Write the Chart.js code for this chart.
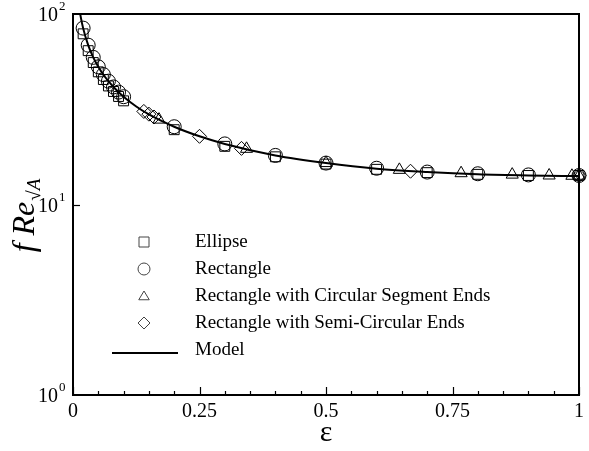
<!DOCTYPE html>
<html>
<head>
<meta charset="utf-8">
<script src="https://cdn.jsdelivr.net/npm/chart.js@4.4.1/dist/chart.umd.min.js"></script>
<style>
  body { margin: 0; background: #fff; }
  #wrap { width: 589px; height: 451px; }
</style>
</head>
<body>
<div id="wrap"><canvas id="plot"></canvas></div>
<script>
// aspect ratio values
const epsEllipse = [0.02, 0.03, 0.04, 0.05, 0.06, 0.07, 0.08, 0.09, 0.1, 0.2, 0.3, 0.4, 0.5, 0.6, 0.7, 0.8, 0.9, 1.0];
const freEllipse = [78.7, 64.2, 55.6, 49.7, 45.3, 41.9, 39.2, 36.9, 35.0, 24.7, 20.2, 17.8, 16.3, 15.3, 14.7, 14.4, 14.2, 14.2];

const epsRect = [0.02, 0.03, 0.04, 0.05, 0.06, 0.07, 0.08, 0.09, 0.1, 0.2, 0.3, 0.4, 0.5, 0.6, 0.7, 0.8, 0.9, 1.0];
const freRect = [84.3, 68.6, 59.2, 52.8, 48.1, 44.4, 41.4, 38.9, 36.8, 25.6, 20.8, 18.1, 16.5, 15.5, 14.8, 14.5, 14.3, 14.2];

const epsCircSeg = [0.17, 0.343, 0.5, 0.645, 0.767, 0.868, 0.941, 0.986, 1.0];
const freCircSeg = [27.9, 19.6, 16.5, 15.2, 14.6, 14.35, 14.2, 14.15, 14.15];

const epsSemiCirc = [0.14, 0.15, 0.16, 0.25, 0.333, 0.667, 1.0];
const freSemiCirc = [30.8, 29.8, 28.8, 22.8, 19.7, 14.95, 14.2];

const epsModel = [0.01, 0.015, 0.02, 0.03, 0.04, 0.05, 0.06, 0.08, 0.1, 0.125, 0.15, 0.2, 0.25, 0.3, 0.4, 0.5, 0.6, 0.7, 0.8, 0.9, 1.0];
const freModel = [119.6, 97.5, 84.3, 68.6, 59.2, 52.8, 48.0, 41.4, 36.8, 32.7, 29.7, 25.6, 22.8, 20.8, 18.1, 16.5, 15.4, 14.8, 14.4, 14.2, 14.1];

const xTickLabels = ['0', '0.25', '0.5', '0.75', '1'];
const yTickExp = ['0', '1', '2'];

const legendNames = ['Ellipse', 'Rectangle', 'Rectangle with Circular Segment Ends', 'Rectangle with Semi-Circular Ends', 'Model'];

const serif = '"Liberation Serif", "Times New Roman", serif';

function pts(xs, ys) {
    return xs.map((x, i) => ({ x: x, y: ys[i] }));
}

function markerSet(label, xs, ys, style, r) {
    return {
        label: label,
        data: pts(xs, ys),
        showLine: false,
        pointStyle: style,
        pointRadius: r,
        pointBorderWidth: 1,
        pointBorderColor: '#000',
        pointBackgroundColor: 'rgba(0,0,0,0)',
        clip: false
    };
}

// draws one hollow marker for the legend
function drawMarker(ctx, style, x, y, r) {
    ctx.beginPath();
    if (style === 'rect') {
        ctx.rect(x - r, y - r, 2 * r, 2 * r);
    } else if (style === 'circle') {
        ctx.arc(x, y, r, 0, Math.PI * 2);
    } else if (style === 'triangle') {
        ctx.moveTo(x, y - r);
        ctx.lineTo(x + r * 1.05, y + r * 0.75);
        ctx.lineTo(x - r * 1.05, y + r * 0.75);
        ctx.closePath();
    } else if (style === 'rectRot') {
        ctx.moveTo(x, y - r * 1.2);
        ctx.lineTo(x + r * 1.2, y);
        ctx.lineTo(x, y + r * 1.2);
        ctx.lineTo(x - r * 1.2, y);
        ctx.closePath();
    }
    ctx.stroke();
}

const framePlugin = {
    id: 'frame',
    afterDraw(chart) {
        const ctx = chart.ctx;
        const a = chart.chartArea;
        const xs = chart.scales.x;
        const ys = chart.scales.y;
        ctx.save();
        ctx.strokeStyle = '#000';

        // x ticks, major every 0.25 and minor every 0.05
        ctx.lineWidth = 1.2;
        for (let i = 0; i <= 20; i++) {
            const px = Math.round(xs.getPixelForValue(i * 0.05)) + 0.5;
            const len = (i % 5 === 0) ? 8 : 4;
            ctx.beginPath();
            ctx.moveTo(px, a.bottom);
            ctx.lineTo(px, a.bottom - len);
            ctx.stroke();
        }
        // y tick at 10
        const py10 = Math.round(ys.getPixelForValue(10)) + 0.5;
        ctx.beginPath();
        ctx.moveTo(a.left, py10);
        ctx.lineTo(a.left + 7, py10);
        ctx.stroke();

        // frame
        ctx.lineWidth = 2;
        ctx.strokeRect(a.left, a.top, a.right - a.left, a.bottom - a.top);

        // y tick labels with exponent
        ctx.fillStyle = '#000';
        ctx.textBaseline = 'middle';
        [1, 10, 100].forEach((v, i) => {
            const py = ys.getPixelForValue(v) + 2;
            ctx.font = '20px ' + serif;
            ctx.textAlign = 'right';
            ctx.fillText('10', a.left - 15, py);
            ctx.font = '13px ' + serif;
            ctx.textAlign = 'left';
            ctx.fillText(yTickExp[i], a.left - 14, py - 9);
        });

        // y axis title
        ctx.save();
        ctx.translate(24, 216);
        ctx.rotate(-Math.PI / 2);
        ctx.textAlign = 'left';
        ctx.textBaseline = 'alphabetic';
        ctx.font = 'italic 32px ' + serif;
        const main = 'f Re';
        const w = ctx.measureText(main).width;
        ctx.font = 'italic 19px ' + serif;
        const sub = '\u221AA';
        const ws = ctx.measureText(sub).width;
        const x0 = -(w + ws) / 2;
        ctx.font = 'italic 32px ' + serif;
        ctx.fillText(main, x0, 10);
        ctx.font = 'italic 19px ' + serif;
        ctx.fillText(sub, x0 + w + 1, 16);
        ctx.restore();

        // legend
        const styles = ['rect', 'circle', 'triangle', 'rectRot'];
        const sizes = [5, 6, 5, 5];
        const rowY = [242, 269, 296, 323, 350];
        ctx.lineWidth = 1;
        ctx.strokeStyle = '#444';
        styles.forEach((s, i) => drawMarker(ctx, s, 144, rowY[i], sizes[i]));
        ctx.strokeStyle = '#000';
        ctx.lineWidth = 2;
        ctx.beginPath();
        ctx.moveTo(112, rowY[4] + 3);
        ctx.lineTo(178, rowY[4] + 3);
        ctx.stroke();
        ctx.font = '19px ' + serif;
        ctx.textAlign = 'left';
        ctx.textBaseline = 'middle';
        legendNames.forEach((n, i) => ctx.fillText(n, 195, rowY[i]));

        ctx.restore();
    }
};

new Chart(document.getElementById('plot'), {
    type: 'scatter',
    data: {
        datasets: [
            {
                label: 'Model',
                data: pts(epsModel, freModel),
                showLine: true,
                borderColor: '#000',
                borderWidth: 2,
                pointRadius: 0,
                cubicInterpolationMode: 'monotone'
            },
            markerSet('Ellipse', epsEllipse, freEllipse, 'rect', 7),
            markerSet('Rectangle', epsRect, freRect, 'circle', 7),
            markerSet('Rectangle with Circular Segment Ends', epsCircSeg, freCircSeg, 'triangle', 7),
            markerSet('Rectangle with Semi-Circular Ends', epsSemiCirc, freSemiCirc, 'rectRot', 7)
        ]
    },
    options: {
        responsive: true,
        maintainAspectRatio: false,
        animation: false,
        layout: { padding: { top: 14, right: 4, left: 0, bottom: 0 } },
        plugins: {
            legend: { display: false },
            tooltip: { enabled: false }
        },
        scales: {
            x: {
                type: 'linear',
                min: 0,
                max: 1,
                grid: { display: false, drawTicks: false },
                border: { display: false },
                afterFit(scale) { scale.height = 56; },
                ticks: {
                    stepSize: 0.25,
                    padding: 5,
                    color: '#000',
                    font: { family: serif, size: 20 },
                    callback: (v) => xTickLabels[Math.round(v * 4)]
                },
                title: {
                    display: true,
                    text: '\u03B5',
                    color: '#000',
                    font: { family: serif, size: 30 },
                    padding: { top: 0, bottom: 0 }
                }
            },
            y: {
                type: 'logarithmic',
                min: 1,
                max: 100,
                grid: { display: false },
                border: { display: false },
                afterFit(scale) { scale.width = 73; },
                ticks: { display: false }
            }
        }
    },
    plugins: [framePlugin]
});
</script>
</body>
</html>
